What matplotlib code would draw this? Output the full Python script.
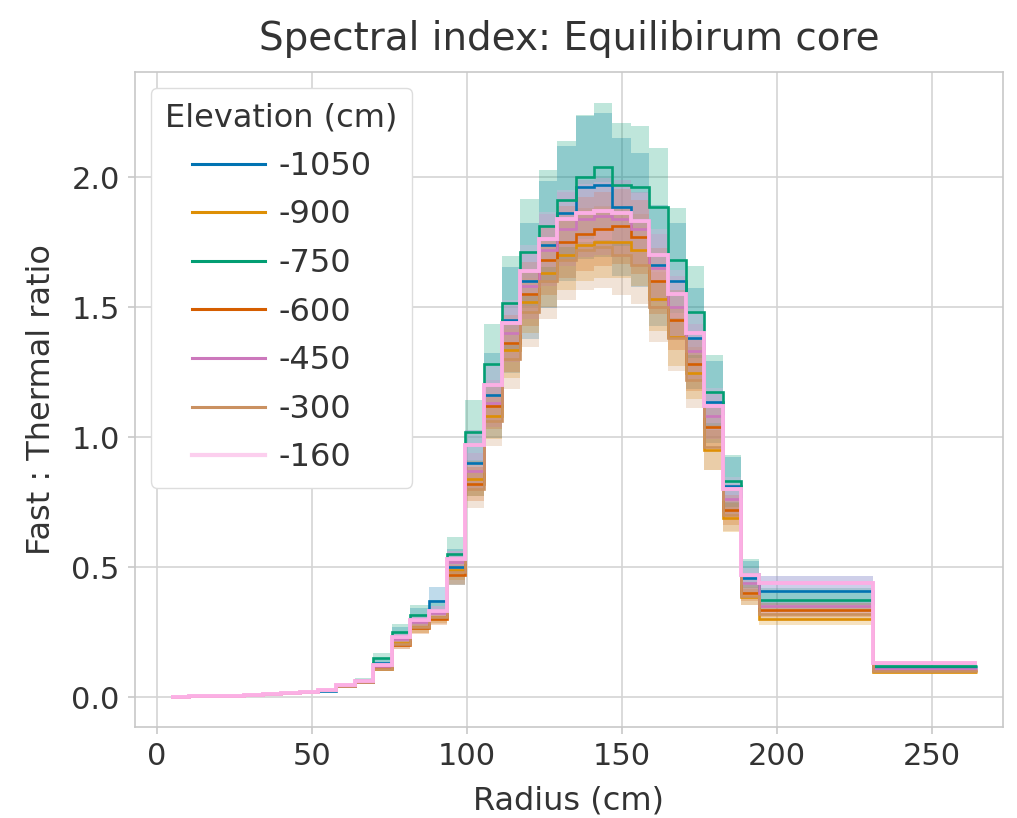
import matplotlib
matplotlib.use("Agg")
import matplotlib.pyplot as plt
from matplotlib.lines import Line2D
import numpy as np

# ---------------- data ----------------
# radial bin edges (cm)
bin_edges = [4.6, 10.5, 16.5, 22.4, 28.3, 34.3, 40.2, 46.2, 52.1, 58.0, 64.0,
             69.9, 75.8, 81.8, 87.7, 93.6, 99.5, 105.5, 111.4, 117.3, 123.3,
             129.2, 135.2, 141.1, 147.0, 153.0, 158.9, 164.8, 170.8, 176.7,
             182.6, 188.6, 194.4, 231.0, 264.5]

elevations = ["-1050", "-900", "-750", "-600", "-450", "-300", "-160"]

ratio_m1050 = [0.002, 0.003, 0.004, 0.006, 0.010, 0.013, 0.015, 0.020, 0.022, 0.045,
               0.060, 0.130, 0.235, 0.300, 0.370, 0.500, 0.900, 1.160, 1.450, 1.600,
               1.740, 1.860, 1.960, 1.970, 1.885, 1.835, 1.660, 1.600, 1.380, 1.135,
               0.810, 0.460, 0.410, 0.115]
ratio_m900 = [0.002, 0.003, 0.004, 0.006, 0.008, 0.011, 0.015, 0.020, 0.026, 0.042,
              0.058, 0.110, 0.210, 0.270, 0.310, 0.490, 0.840, 1.080, 1.335, 1.520,
              1.630, 1.700, 1.740, 1.750, 1.750, 1.720, 1.530, 1.385, 1.245, 0.950,
              0.690, 0.385, 0.300, 0.095]
ratio_m750 = [0.002, 0.003, 0.004, 0.006, 0.008, 0.011, 0.015, 0.020, 0.026, 0.046,
              0.065, 0.150, 0.250, 0.315, 0.335, 0.550, 1.020, 1.280, 1.515, 1.710,
              1.810, 1.910, 2.000, 2.040, 1.970, 1.960, 1.885, 1.680, 1.480, 1.175,
              0.830, 0.475, 0.373, 0.120]
ratio_m600 = [0.002, 0.003, 0.004, 0.006, 0.008, 0.011, 0.015, 0.020, 0.026, 0.042,
              0.058, 0.115, 0.200, 0.265, 0.300, 0.470, 0.820, 1.120, 1.360, 1.550,
              1.680, 1.750, 1.780, 1.800, 1.810, 1.770, 1.600, 1.450, 1.280, 1.040,
              0.720, 0.400, 0.335, 0.104]
ratio_m450 = [0.002, 0.003, 0.004, 0.006, 0.008, 0.011, 0.015, 0.020, 0.026, 0.044,
              0.060, 0.120, 0.225, 0.290, 0.325, 0.520, 0.870, 1.130, 1.400, 1.580,
              1.720, 1.800, 1.840, 1.850, 1.840, 1.800, 1.650, 1.500, 1.330, 1.080,
              0.760, 0.440, 0.350, 0.110]
ratio_m300 = [0.002, 0.003, 0.004, 0.006, 0.008, 0.011, 0.015, 0.020, 0.026, 0.042,
              0.057, 0.110, 0.205, 0.270, 0.310, 0.480, 0.800, 1.060, 1.300, 1.480,
              1.600, 1.680, 1.720, 1.730, 1.700, 1.660, 1.500, 1.380, 1.220, 0.960,
              0.700, 0.390, 0.320, 0.100]
ratio_m160 = [0.002, 0.003, 0.004, 0.006, 0.009, 0.012, 0.016, 0.021, 0.027, 0.046,
              0.062, 0.125, 0.230, 0.295, 0.330, 0.530, 0.970, 1.200, 1.440, 1.640,
              1.760, 1.840, 1.860, 1.870, 1.860, 1.830, 1.700, 1.550, 1.400, 1.120,
              0.800, 0.470, 0.440, 0.132]

series = [ratio_m1050, ratio_m900, ratio_m750, ratio_m600, ratio_m450, ratio_m300, ratio_m160]
# relative uncertainty of each elevation's ratio
rel_unc = [0.14, 0.08, 0.12, 0.08, 0.08, 0.09, 0.06]

colors = ["#0173B2", "#DE8F05", "#029E73", "#D55E00", "#CC78BC", "#CA9161", "#FBAFE4"]
line_widths = [1.9, 1.9, 1.9, 1.9, 1.9, 1.9, 2.8]

# ---------------- style ----------------
plt.rcParams['font.family'] = ['DejaVu Sans']
text_color = "#333333"
grid_color = "#d4d4d4"

fig = plt.figure(figsize=(10.17, 8.18), dpi=100)
ax = fig.add_axes([0.1327, 0.1112, 0.8535, 0.8008])

edges = np.array(bin_edges)
for vals, rel, c in zip(series, rel_unc, colors):
    v = np.array(vals)
    ax.stairs(v * (1 + rel), edges, baseline=v * (1 - rel), fill=True,
              color=c, alpha=0.25, linewidth=0)

for vals, c, lw, lab in zip(series, colors, line_widths, elevations):
    ax.stairs(vals, edges, baseline=None, color=c, linewidth=lw, label=lab)

ax.set_xlim(-7.0, 273.0)
ax.set_ylim(-0.115, 2.404)
ax.set_xticks([0, 50, 100, 150, 200, 250])
ax.set_yticks([0.0, 0.5, 1.0, 1.5, 2.0])
ax.set_yticklabels(["0.0", "0.5", "1.0", "1.5", "2.0"])
ax.grid(True, color=grid_color, linewidth=1.2)
ax.set_axisbelow(True)
for s in ax.spines.values():
    s.set_color("#c8c8c8")
    s.set_linewidth(1.2)
ax.tick_params(colors="#c8c8c8", labelcolor=text_color, labelsize=22, length=5,
               width=1.2, pad=6)

ax.set_xlabel("Radius (cm)", fontsize=23, color=text_color, labelpad=10)
ax.set_ylabel("Fast : Thermal ratio", fontsize=23, color=text_color, labelpad=10)
ax.set_title("Spectral index: Equilibirum core", fontsize=28, color=text_color, pad=16)

leg_handles = [Line2D([0], [0], color=c, lw=2.2 if i < 6 else 3, alpha=1.0 if i < 6 else 0.6)
               for i, c in enumerate(colors)]
leg = ax.legend(leg_handles, elevations, title="Elevation (cm)", loc="upper left",
                borderaxespad=0.5, fontsize=23, title_fontsize=23,
                handlelength=2.3, labelspacing=0.55, handletextpad=0.4,
                borderpad=0.45, frameon=True, fancybox=True, framealpha=1.0,
                edgecolor="#dddddd")
for t in leg.get_texts():
    t.set_color(text_color)
leg.get_title().set_color(text_color)

fig.savefig("out.png", dpi=100)
